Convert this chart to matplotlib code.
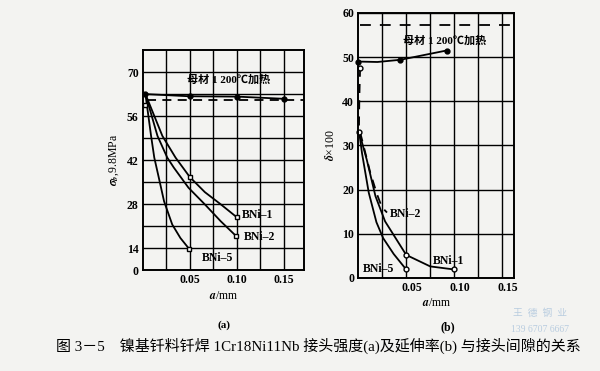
import numpy as np
import matplotlib
matplotlib.use('Agg')
import matplotlib.pyplot as plt
import matplotlib.transforms as mtransforms

plt.rcParams['font.family'] = ['Liberation Serif', 'Noto Sans CJK SC']
plt.rcParams['font.weight'] = 'bold'
plt.rcParams['mathtext.fontset'] = 'stix'

# ---- (a) strength vs gap ----
a_base_x = [0.0028, 0.05, 0.10, 0.15]
a_base_y = [63, 62.3, 62.2, 61.5]
a_base_ref = 61.1

a_bni1_x = [0.0028, 0.0208, 0.0348, 0.05, 0.066, 0.083, 0.10]
a_bni1_y = [63, 49.7, 42.8, 36.6, 31.8, 27.9, 23.8]
a_bni2_x = [0.0028, 0.0156, 0.026, 0.033, 0.0486, 0.066, 0.083, 0.099]
a_bni2_y = [63, 49.7, 42.8, 39.6, 33.2, 27.9, 22.5, 17.9]
a_bni5_x = [0.0028, 0.0088, 0.0122, 0.0174, 0.0226, 0.0313, 0.040, 0.0494]
a_bni5_y = [63, 49.7, 42.8, 35.9, 28.9, 21.5, 17.2, 13.4]
a_open_x = [0.05, 0.10, 0.099, 0.0494, 0.002]
a_open_y = [36.6, 23.8, 17.9, 13.4, 59.5]

a_yticks = [0, 14, 28, 42, 56, 70]
a_ygrid = [21, 35, 49, 63]

# ---- (b) elongation vs gap ----
b_base_x = [0, 0.02, 0.044, 0.092]
b_base_y = [49, 48.9, 49.4, 51.5]
b_base_mx = [0, 0.044, 0.092]
b_base_my = [49, 49.4, 51.5]
b_base_ref = 57.3

b_bni2_x = [0.002, 0.0012, 0.0008, 0.0055, 0.0125, 0.0195, 0.0247, 0.030]
b_bni2_y = [47.6, 41, 34, 30, 23.9, 19, 16, 14.8]
b_bni1_x = [0.001, 0.009, 0.018, 0.028, 0.05, 0.075, 0.10]
b_bni1_y = [33, 26.7, 18.5, 12.8, 5.2, 2.6, 1.9]
b_bni5_x = [0.001, 0.004, 0.011, 0.019, 0.026, 0.037, 0.05]
b_bni5_y = [33, 28.2, 19.3, 12.6, 9, 5.4, 1.9]
b_open_x = [0.002, 0.001, 0.05, 0.10, 0.05]
b_open_y = [47.6, 33, 5.2, 1.9, 1.9]

xticks = [0.05, 0.10, 0.15]
xticklabels = ['0.05', '0.10', '0.15']

bg = '#f3f3f1'
fig = plt.figure(figsize=(6, 3.71), dpi=100, facecolor=bg)


def fwd(y):
    y = np.asarray(y, float)
    return np.where(y <= 14, y / 2, y - 7)


def inv(u):
    u = np.asarray(u, float)
    return np.where(u <= 7, u * 2, u + 7)


def style(ax):
    ax.set_facecolor(bg)
    for s in ax.spines.values():
        s.set_linewidth(1.4)
    ax.tick_params(length=0, labelsize=8.5, pad=3)
    ax.grid(True, which='both', color='black', lw=1.0)
    ax.set_axisbelow(True)


# (a)
ax1 = fig.add_axes([0.238, 0.272, 0.268, 0.593])
ax1.set_yscale('function', functions=(fwd, inv))
ax1.set_xlim(0, 0.171)
ax1.set_ylim(0, 77)
ax1.set_yticks(a_yticks)
ax1.set_yticks(a_ygrid, minor=True)
ax1.set_xticks(xticks)
ax1.set_xticklabels(xticklabels)
ax1.set_xticks([0.025, 0.075, 0.125], minor=True)
style(ax1)
ax1.tick_params(which='minor', length=0)

ax1.plot(a_base_x, a_base_y, color='black', lw=1.3, marker='o', ms=3.5)
ax1.plot([0.004, 0.171], [a_base_ref, a_base_ref], color='black', lw=1.3,
         dashes=(5, 3.5))
ax1.plot(a_bni1_x, a_bni1_y, color='black', lw=1.3)
ax1.plot(a_bni2_x, a_bni2_y, color='black', lw=1.3)
ax1.plot(a_bni5_x, a_bni5_y, color='black', lw=1.3)
ax1.plot(a_open_x, a_open_y, 's', mfc='white', mec='black', ms=3.5, mew=1)

ax1.text(0.047, 66.5, '母材 1 200℃加热', fontsize=8, fontweight='bold')
ax1.text(0.105, 24.5, 'BNi–1', fontsize=8.5, va='center')
ax1.text(0.107, 17.5, 'BNi–2', fontsize=8.5, va='center')
ax1.text(0.063, 7.5, 'BNi–5', fontsize=8.5, va='center')
ax1.set_ylabel(r'$\sigma_b$,9.8MPa', fontsize=8.5, labelpad=4)
ax1.set_xlabel(r'$a$/mm', fontsize=8.5, labelpad=3)

# (b)
ax2 = fig.add_axes([0.597, 0.251, 0.26, 0.714])
ax2.set_xlim(0, 0.1625)
ax2.set_ylim(0, 60)
ax2.set_yticks(np.arange(0, 61, 10))
ax2.set_xticks(xticks)
ax2.set_xticklabels(xticklabels)
ax2.set_xticks([0.025, 0.075, 0.125], minor=True)
style(ax2)
ax2.tick_params(which='minor', length=0)
shift = mtransforms.ScaledTranslation(6 / 100, 0, fig.dpi_scale_trans)
for lbl in ax2.get_xticklabels():
    lbl.set_transform(lbl.get_transform() + shift)

ax2.plot([0.002, 0.1625], [b_base_ref, b_base_ref], color='black', lw=1.3,
         dashes=(6, 5))
ax2.plot(b_base_x, b_base_y, color='black', lw=1.3)
ax2.plot(b_base_mx, b_base_my, 'o', color='black', ms=3.5, clip_on=False)
ax2.plot(b_bni2_x, b_bni2_y, color='black', lw=1.3, dashes=(5, 4))
ax2.plot(b_bni1_x, b_bni1_y, color='black', lw=1.3)
ax2.plot(b_bni5_x, b_bni5_y, color='black', lw=1.3)
ax2.plot(b_open_x, b_open_y, 'o', mfc='white', mec='black', ms=3.5, mew=1,
         clip_on=False)

ax2.text(0.047, 53.0, '母材 1 200℃加热', fontsize=8, fontweight='bold')
ax2.text(0.033, 14.5, 'BNi–2', fontsize=8.5, va='center')
ax2.text(0.078, 3.8, 'BNi–1', fontsize=8.5, va='center')
ax2.text(0.005, 1.9, 'BNi–5', fontsize=8.5, va='center')
ax2.set_ylabel(r'$\delta$×100', fontsize=8.5, labelpad=4)
ax2.set_xlabel(r'$a$/mm', fontsize=8.5, labelpad=2)

fig.text(0.373, 0.124, '(a)', fontsize=8, ha='center', va='center')
fig.text(0.747, 0.118, '(b)', fontsize=8.5, ha='center', va='center')
fig.text(0.093, 0.067,
         '图 3－5　镍基钎料钎焊 1Cr18Ni11Nb 接头强度(a)及延伸率(b) 与接头间隙的关系',
         fontsize=10.8, fontweight='normal', va='center')
fig.text(0.90, 0.155, '王  德  钢  业', fontsize=7, color='#b9cde0',
         ha='center', va='center', fontweight='normal')
fig.text(0.90, 0.112, '139 6707 6667', fontsize=7, color='#b9cde0',
         ha='center', va='center', fontweight='normal')

fig.savefig('out.png', dpi=100, facecolor=bg)
